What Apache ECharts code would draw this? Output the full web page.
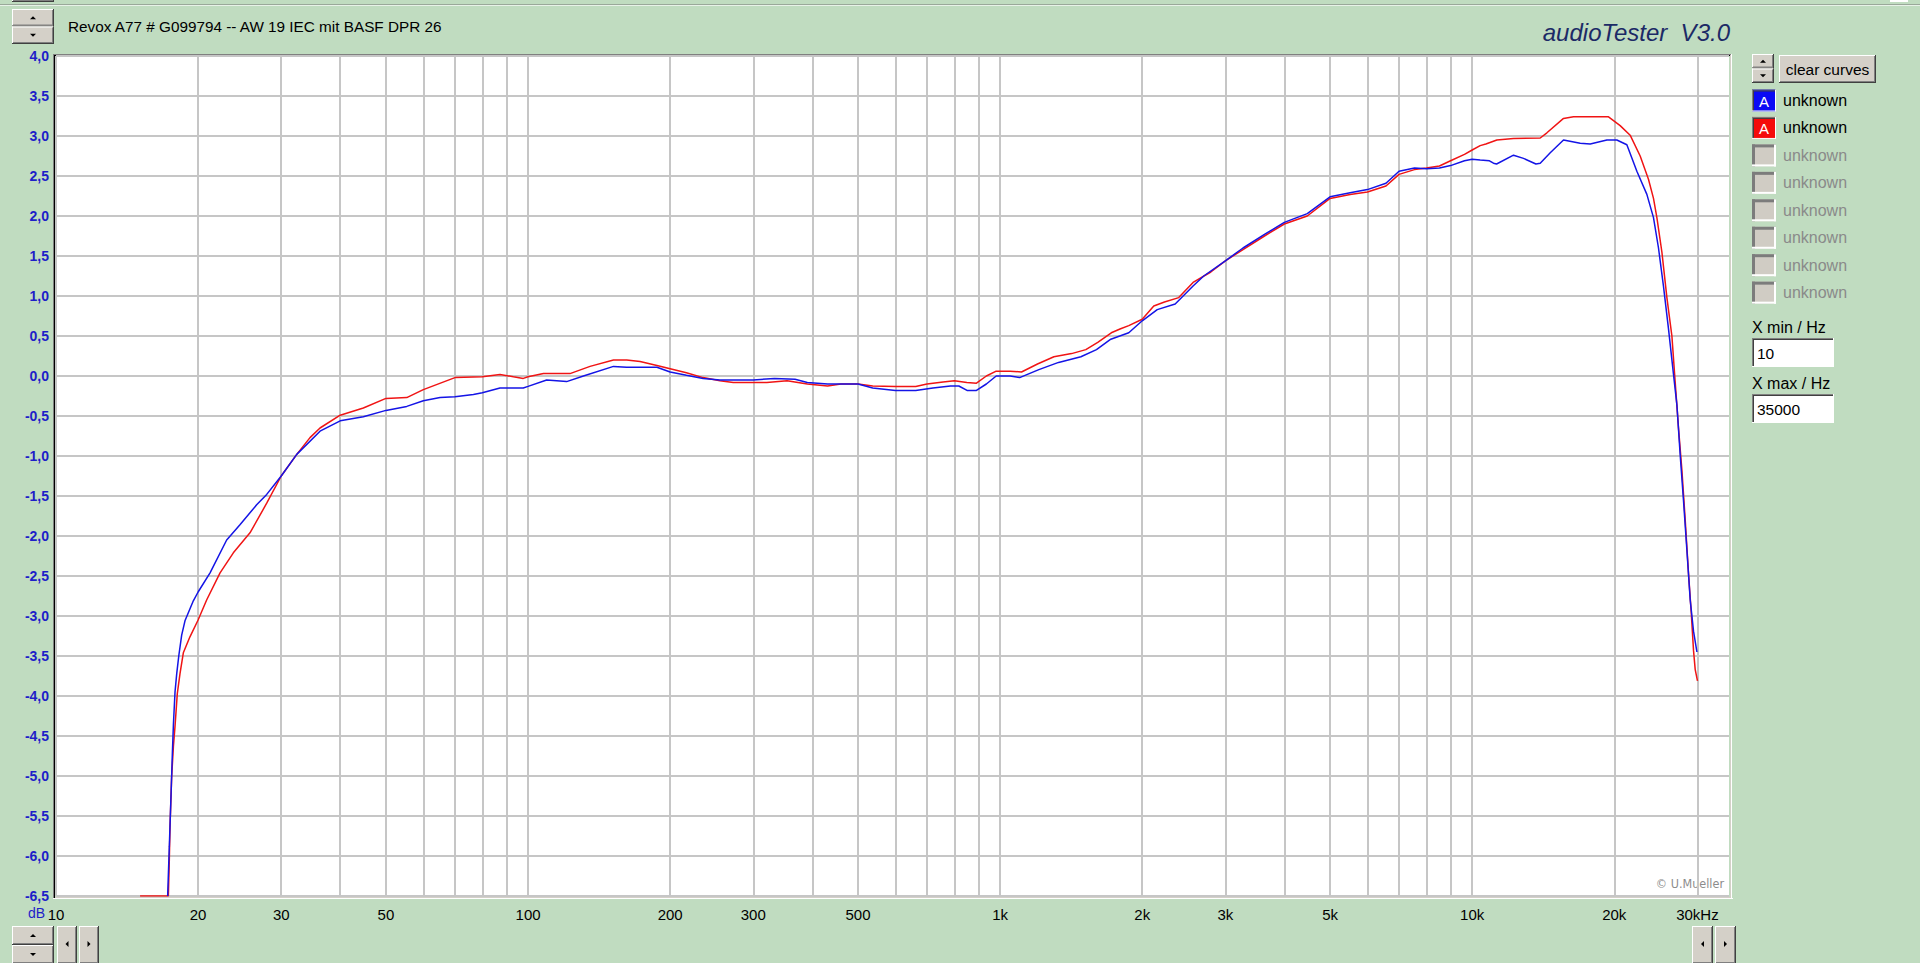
<!DOCTYPE html>
<html>
<head>
<meta charset="utf-8">
<title>audioTester V3.0 - Revox A77</title>
<script src="https://cdn.jsdelivr.net/npm/echarts@6/dist/echarts.min.js"></script>
<style>
html,body{margin:0;padding:0;background:#c0dcc0;overflow:hidden;}
#chart{width:1920px;height:963px;}
</style>
</head>
<body>
<div id="chart"></div>
<script>
// ---------------- data ----------------
const titleText = 'Revox A77 # G099794 -- AW 19 IEC mit BASF DPR 26';
const brandText = 'audioTester  V3.0';
const yUnit = 'dB';

const freqRed = [15.07, 17.3, 17.38, 17.44, 17.58, 17.73, 17.87, 18.07, 18.31, 18.61, 19.22, 20, 20.85, 22.26, 23.75, 25.76, 27.95, 30, 32.36, 34.52, 36.25, 40, 44.78, 50, 55.34, 60, 70, 80, 87.2, 93.1, 97.7, 100, 107.8, 122.7, 135.3, 151.7, 161.8, 172.7, 187.5, 200, 216.5, 234.9, 254.9, 272.1, 300, 320.5, 353.8, 390.5, 431, 459.9, 500, 537.2, 600, 662.6, 700, 757.2, 800, 850.1, 891.1, 935.1, 981.1, 1050, 1110, 1200, 1300, 1417, 1519, 1610, 1720, 1800, 1873, 2000, 2116, 2229, 2390, 2563, 2795, 3000, 3270, 3631, 4000, 4474, 5000, 5514, 6000, 6567, 7000, 7547, 8000, 8524, 9000, 9632, 10000, 10398, 10690, 11281, 12234, 13937, 14399, 15613, 16393, 17783, 19446, 20582, 21610, 22693, 23630, 24216, 24620, 25228, 25852, 26491, 26922, 27359, 27817, 28269, 28729, 29107, 29437, 29682, 30012];
const dbRed = [-6.5, -6.5, -6.05, -5.63, -5.01, -4.63, -4.38, -3.97, -3.72, -3.46, -3.26, -3.05, -2.80, -2.46, -2.21, -1.96, -1.59, -1.25, -0.98, -0.77, -0.65, -0.49, -0.40, -0.28, -0.27, -0.17, -0.02, -0.01, 0.02, -0.01, -0.03, -0.01, 0.03, 0.03, 0.12, 0.20, 0.20, 0.18, 0.13, 0.09, 0.04, -0.02, -0.06, -0.08, -0.08, -0.08, -0.06, -0.10, -0.125, -0.10, -0.10, -0.125, -0.13, -0.13, -0.10, -0.075, -0.06, -0.08, -0.09, 0.0, 0.06, 0.06, 0.05, 0.15, 0.24, 0.28, 0.33, 0.42, 0.54, 0.59, 0.63, 0.71, 0.875, 0.925, 0.98, 1.17, 1.30, 1.44, 1.58, 1.75, 1.90, 2.0, 2.22, 2.27, 2.30, 2.375, 2.52, 2.58, 2.60, 2.625, 2.69, 2.77, 2.825, 2.88, 2.90, 2.95, 2.97, 2.975, 3.04, 3.22, 3.24, 3.24, 3.24, 3.13, 3.01, 2.75, 2.46, 2.22, 1.98, 1.55, 0.98, 0.50, -0.08, -0.65, -1.18, -1.80, -2.47, -2.95, -3.43, -3.67, -3.81];

const freqBlue = [17.24, 17.38, 17.53, 17.64, 17.73, 17.87, 18.02, 18.2, 18.46, 18.76, 19.54, 20, 21.2, 22.99, 24.53, 26.61, 27.95, 30, 32.36, 36.25, 40, 44.78, 50, 55.34, 60, 65.1, 70, 76.6, 80, 87.2, 97.7, 100, 109.5, 120.7, 131, 151.7, 161.8, 172.7, 187.5, 200, 216.5, 234.9, 254.9, 300, 332.8, 367.8, 390.5, 431, 500, 537.2, 600, 662.6, 720.6, 785, 817.6, 851, 891.1, 935.1, 981.1, 1050, 1100, 1208, 1330, 1483, 1600, 1716, 1873, 2000, 2152, 2349, 2563, 2700, 3000, 3270, 3631, 4000, 4474, 5000, 5514, 6000, 6567, 7000, 7547, 8000, 8524, 9000, 9632, 10000, 10398, 10879, 11096, 11264, 12234, 12846, 13646, 13937, 14634, 15613, 16938, 17783, 19294, 20253, 21266, 22330, 23446, 24216, 24814, 25427, 26055, 26700, 27146, 27587, 28036, 28505, 28968, 29437, 29930];
const dbBlue = [-6.5, -5.88, -5.22, -4.72, -4.36, -3.95, -3.72, -3.5, -3.24, -3.06, -2.81, -2.70, -2.46, -2.05, -1.86, -1.61, -1.48, -1.25, -0.98, -0.69, -0.56, -0.51, -0.43, -0.38, -0.31, -0.27, -0.26, -0.23, -0.21, -0.15, -0.15, -0.13, -0.05, -0.07, 0.0, 0.12, 0.11, 0.11, 0.11, 0.05, 0.01, -0.03, -0.05, -0.05, -0.03, -0.04, -0.08, -0.10, -0.10, -0.15, -0.18, -0.18, -0.15, -0.125, -0.125, -0.18, -0.18, -0.10, 0.0, 0.0, -0.02, 0.08, 0.17, 0.24, 0.33, 0.46, 0.54, 0.69, 0.83, 0.90, 1.125, 1.25, 1.44, 1.60, 1.77, 1.92, 2.03, 2.24, 2.29, 2.33, 2.41, 2.56, 2.60, 2.59, 2.60, 2.63, 2.69, 2.71, 2.70, 2.69, 2.66, 2.65, 2.76, 2.72, 2.65, 2.66, 2.79, 2.95, 2.91, 2.90, 2.95, 2.95, 2.89, 2.56, 2.27, 1.98, 1.60, 1.12, 0.59, 0.02, -0.36, -0.99, -1.56, -2.18, -2.80, -3.19, -3.45];

// axis ticks
const xMin = 10, xMax = 35000;
const yMin = -6.5, yMax = 4.0, yStep = 0.5;
const xGridFreqs = [10, 20, 30, 40, 50, 60, 70, 80, 90, 100, 200, 300, 400, 500, 600, 700, 800, 900, 1000, 2000, 3000, 4000, 5000, 6000, 7000, 8000, 9000, 10000, 20000, 30000];
const xLabelFreqs = [10, 20, 30, 50, 100, 200, 300, 500, 1000, 2000, 3000, 5000, 10000, 20000, 30000];
const xLabelTexts = ['10', '20', '30', '50', '100', '200', '300', '500', '1k', '2k', '3k', '5k', '10k', '20k', '30kHz'];

// side panel texts
const curveNames = ['unknown', 'unknown', 'unknown', 'unknown', 'unknown', 'unknown', 'unknown', 'unknown'];
const xMinLabel = 'X min / Hz', xMaxLabel = 'X max / Hz';
const xMinValue = '10', xMaxValue = '35000';

// ---------------- helpers ----------------
const FONT = '"Liberation Sans", Arial, sans-serif';
const FACE = '#d4d0c8';
function pair(fs, vs) { const n = Math.min(fs.length, vs.length); const out = []; for (let i = 0; i < n; i++) out.push([fs[i], vs[i]]); return out; }
function line(x1, y1, x2, y2, color, w) { return { type: 'line', silent: true, shape: { x1, y1, x2, y2 }, style: { stroke: color, lineWidth: w || 1 } }; }
function rect(x, y, w, h, fill) { return { type: 'rect', silent: true, shape: { x, y, width: w, height: h }, style: { fill } }; }
function raised(x, y, w, h) {
  return [
    rect(x, y, w, h, FACE),
    line(x + 0.5, y, x + 0.5, y + h - 1, '#ffffff'),
    line(x, y + 0.5, x + w - 1, y + 0.5, '#ffffff'),
    line(x, y + h - 0.5, x + w, y + h - 0.5, '#404040'),
    line(x + w - 0.5, y, x + w - 0.5, y + h, '#404040'),
    line(x + 1, y + h - 1.5, x + w - 1, y + h - 1.5, '#808080'),
    line(x + w - 1.5, y + 1, x + w - 1.5, y + h - 1, '#808080')
  ];
}
function sunken(x, y, w, h, fill) {
  return [
    rect(x, y, w, h, fill),
    line(x, y + 0.5, x + w, y + 0.5, '#808080'),
    line(x + 0.5, y, x + 0.5, y + h, '#808080'),
    line(x + 1, y + 1.5, x + w - 1, y + 1.5, '#404040'),
    line(x + 1.5, y + 1, x + 1.5, y + h - 1, '#404040'),
    line(x, y + h - 0.5, x + w, y + h - 0.5, '#ffffff'),
    line(x + w - 0.5, y, x + w - 0.5, y + h, '#ffffff')
  ];
}
function tri(cx, cy, dir, s) {
  s = s || 3;
  let pts;
  if (dir === 'up') pts = [[cx - s, cy + s / 2], [cx + s, cy + s / 2], [cx, cy - s / 2]];
  else if (dir === 'down') pts = [[cx - s, cy - s / 2], [cx + s, cy - s / 2], [cx, cy + s / 2]];
  else if (dir === 'left') pts = [[cx + s / 2, cy - s], [cx + s / 2, cy + s], [cx - s / 2, cy]];
  else pts = [[cx - s / 2, cy - s], [cx - s / 2, cy + s], [cx + s / 2, cy]];
  return { type: 'polygon', silent: true, shape: { points: pts }, style: { fill: '#000000' } };
}
function txt(x, y, text, opts) {
  opts = opts || {};
  return { type: 'text', silent: true, x, y, style: Object.assign({ text, fill: '#000000', fontSize: 16, fontFamily: FONT, align: 'left', verticalAlign: 'middle' }, opts) };
}
function spin(x, y, w, h) {
  const hh = h / 2;
  return [].concat(raised(x, y, w, hh), raised(x, y + hh, w, hh), [tri(x + w / 2, y + hh / 2, 'up', 3), tri(x + w / 2, y + hh + hh / 2, 'down', 3)]);
}

// ---------------- chrome (window UI) ----------------
let g = [];
// top strip
g = g.concat(raised(12, -6, 42, 8));
g.push(rect(1890, -2, 18, 4, '#ffffff'));
g.push(line(0, 4.5, 1920, 4.5, '#9aa89a'));
g.push(line(0, 5.5, 1920, 5.5, '#e8f2e8'));
g = g.concat(spin(12, 9, 42, 35));
g.push(txt(68, 26, titleText, { fontSize: 15.3 }));
g.push(txt(1730, 32, brandText, { fontSize: 24, fontStyle: 'italic', fill: '#1c2a66', align: 'right' }));

// plot frame (sunken)
g.push(line(53, 54.5, 1732, 54.5, '#808080'));
g.push(line(53, 55.5, 1731, 55.5, '#000000'));
g.push(line(53.5, 54, 53.5, 899, '#808080'));
g.push(line(54.5, 55, 54.5, 898, '#000000'));
g.push(line(55, 897.5, 1731, 897.5, '#d4d0c8'));
g.push(line(53, 898.5, 1733, 898.5, '#ffffff'));
g.push(line(1730.5, 55, 1730.5, 898, '#d4d0c8'));
g.push(line(1731.5, 54, 1731.5, 899, '#ffffff'));
g.push(txt(1724, 883, '\u00a9 U.Mueller', { fontSize: 12.5, fill: '#8c8c8c', align: 'right', fontFamily: '"Liberation Sans Narrow", "DejaVu Sans Condensed", ' + FONT }));

// y unit label, left of the "10" x label
g.push(txt(45, 913, yUnit, { fontSize: 14, fill: '#1e1ec8', align: 'right' }));

// right panel
g = g.concat(spin(1752, 54, 22, 29));
g = g.concat(raised(1779, 55, 97, 28));
g.push(txt(1827.5, 69, 'clear curves', { fontSize: 15.5, align: 'center' }));
curveNames.forEach(function (nm, i) {
  const cy = 100.5 + i * 27.45;
  const bx = 1752, by = cy - 11, bw = 24, bh = 22;
  if (i === 0 || i === 1) {
    const col = i === 0 ? '#0a0af5' : '#f50a0a';
    g = g.concat(sunken(bx, by, bw, bh, col));
    g.push(txt(bx + bw / 2, cy + 1, 'A', { fill: '#ffffff', fontSize: 15, align: 'center' }));
    g.push(txt(1783, cy, nm, { fontSize: 16 }));
  } else {
    g.push(rect(bx, by, bw, bh, '#d0ccc4'));
    g.push(line(bx, by + 1.5, bx + bw, by + 1.5, '#7c7c7c', 3));
    g.push(line(bx + 1.5, by, bx + 1.5, by + bh, '#7c7c7c', 3));
    g.push(line(bx, by + bh - 1, bx + bw, by + bh - 1, '#ffffff', 2));
    g.push(line(bx + bw - 1, by, bx + bw - 1, by + bh, '#ffffff', 2));
    g.push(txt(1783, cy, nm, { fontSize: 16, fill: '#8a8a8a' }));
  }
});
g.push(txt(1752, 327, xMinLabel, { fontSize: 16 }));
g = g.concat(sunken(1752, 338, 82, 29, '#ffffff'));
g.push(txt(1757, 353, xMinValue, { fontSize: 15.5 }));
g.push(txt(1752, 383.5, xMaxLabel, { fontSize: 16 }));
g = g.concat(sunken(1752, 394, 82, 29, '#ffffff'));
g.push(txt(1757, 409, xMaxValue, { fontSize: 15.5 }));

// bottom controls
g = g.concat(spin(12, 926, 42, 38));
g = g.concat(raised(57, 926, 20, 38));
g.push(tri(67, 944, 'left', 3));
g = g.concat(raised(79, 926, 20, 38));
g.push(tri(89, 944, 'right', 3));
g = g.concat(raised(1692, 926, 21, 38));
g.push(tri(1702.5, 944, 'left', 3));
g = g.concat(raised(1715, 926, 21, 38));
g.push(tri(1725.5, 944, 'right', 3));

// ---------------- chart ----------------
function xLabelFor(v) {
  for (let i = 0; i < xLabelFreqs.length; i++) {
    if (Math.abs(Math.log10(v / xLabelFreqs[i])) < 1e-4) return xLabelTexts[i];
  }
  return '';
}
const chart = echarts.init(document.getElementById('chart'), null, { renderer: 'svg' });
const option = {
  animation: false,
  backgroundColor: '#c0dcc0',
  grid: { left: 56, right: 191, top: 56, bottom: 67, show: true, backgroundColor: '#ffffff', borderWidth: 0, containLabel: false },
  xAxis: {
    type: 'log', logBase: 10, min: xMin, max: xMax,
    axisLine: { show: false },
    axisTick: { show: false, customValues: xGridFreqs },
    minorTick: { show: false },
    splitLine: { show: true, lineStyle: { color: '#c6c6c6', width: 2 } },
    axisLabel: {
      customValues: xLabelFreqs, formatter: xLabelFor,
      color: '#000000', fontSize: 15, fontFamily: FONT, margin: 11,
      showMinLabel: true, showMaxLabel: true, hideOverlap: false
    }
  },
  yAxis: {
    type: 'value', min: yMin, max: yMax, interval: yStep,
    axisLine: { show: false }, axisTick: { show: false },
    splitLine: { show: true, lineStyle: { color: '#c6c6c6', width: 2 } },
    axisLabel: {
      formatter: function (v) { return v.toFixed(1).replace('.', ','); },
      color: '#1e1ec8', fontSize: 14, fontWeight: 'bold', fontFamily: FONT, margin: 7,
      showMinLabel: true, showMaxLabel: true
    }
  },
  series: [
    { name: 'unknown (R)', type: 'line', data: pair(freqRed, dbRed), showSymbol: false, symbol: 'none', clip: true,
      lineStyle: { color: '#f01414', width: 1.5 }, itemStyle: { color: '#f01414' }, z: 3 },
    { name: 'unknown (L)', type: 'line', data: pair(freqBlue, dbBlue), showSymbol: false, symbol: 'none', clip: true,
      lineStyle: { color: '#1414e6', width: 1.5 }, itemStyle: { color: '#1414e6' }, z: 4 }
  ],
  graphic: { elements: g }
};
chart.setOption(option);
</script>
</body>
</html>
